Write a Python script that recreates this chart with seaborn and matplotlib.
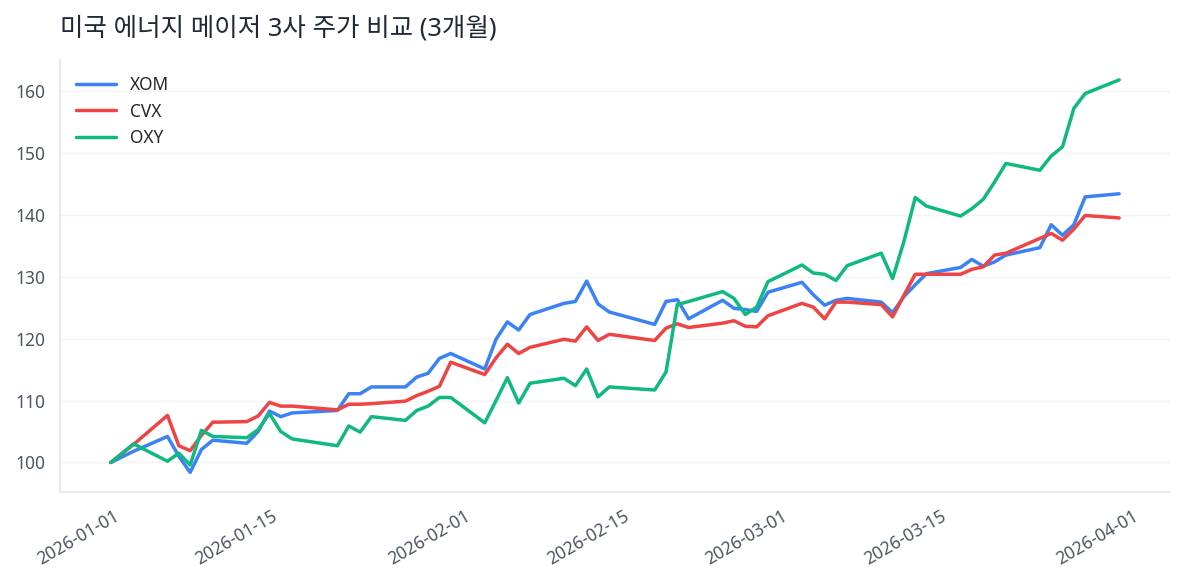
import pandas as pd
import seaborn as sns
import matplotlib.pyplot as plt
import matplotlib.dates as mdates

# US trading days, 2025-12-31 .. 2026-03-30
holidays = ['2026-01-01', '2026-01-19', '2026-02-16']
dates = pd.bdate_range('2025-12-31', '2026-03-30', freq='C', holidays=holidays)

xom = [100.0, 101.8, 104.2, 101.0, 98.4, 102.1, 103.6, 103.1, 105.0, 108.3,
       107.4, 108.0, 108.4, 111.1, 111.1, 112.2, 112.2, 113.8, 114.4, 116.8,
       117.6, 115.1, 119.9, 122.7, 121.4, 123.9, 125.7, 126.0, 129.3, 125.6,
       124.3, 122.3, 126.0, 126.3, 123.2, 126.2, 124.9, 124.7, 124.4, 127.5,
       129.1, 127.1, 125.4, 126.2, 126.5, 125.9, 124.2, 126.8, 128.7, 130.5,
       131.5, 132.8, 131.7, 132.4, 133.5, 134.7, 138.4, 136.7, 138.4, 142.9,
       143.4]
cvx = [100.0, 102.9, 107.6, 102.7, 101.9, 104.4, 106.5, 106.6, 107.5, 109.7,
       109.1, 109.1, 108.5, 109.4, 109.4, 109.5, 109.9, 110.8, 111.5, 112.3,
       116.2, 114.2, 116.9, 119.1, 117.6, 118.6, 119.9, 119.6, 121.9, 119.7,
       120.7, 119.7, 121.7, 122.4, 121.8, 122.5, 122.9, 122.0, 121.9, 123.7,
       125.7, 125.1, 123.2, 125.9, 125.9, 125.5, 123.5, 127.0, 130.4, 130.4,
       130.4, 131.2, 131.6, 133.5, 133.8, 136.2, 137.0, 135.9, 137.7, 139.9,
       139.5]
oxy = [100.0, 103.0, 100.2, 101.5, 99.6, 105.2, 104.2, 104.0, 105.3, 107.9,
       105.0, 103.8, 102.7, 105.9, 104.9, 107.4, 106.8, 108.4, 109.1, 110.5,
       110.5, 106.4, 110.0, 113.7, 109.6, 112.8, 113.6, 112.4, 115.1, 110.6,
       112.2, 111.7, 114.6, 125.5, 126.0, 127.6, 126.5, 123.9, 125.1, 129.2,
       131.9, 130.6, 130.4, 129.4, 131.8, 133.8, 129.7, 135.7, 142.8, 141.4,
       139.8, 141.0, 142.5, 145.3, 148.3, 147.2, 149.5, 151.0, 157.2, 159.6,
       161.8]

tickers = ['XOM', 'CVX', 'OXY']
colors = ['#3b82f6', '#ef4444', '#10b981']

df = pd.DataFrame({'date': dates, 'XOM': xom, 'CVX': cvx, 'OXY': oxy})
df = df.melt(id_vars='date', var_name='ticker', value_name='price')

sns.set_style('white')
plt.rcParams['font.family'] = ['Noto Sans', 'Noto Sans CJK KR', 'DejaVu Sans']

fig, ax = plt.subplots(figsize=(9.48, 4.68), dpi=125)
fig.subplots_adjust(left=0.051, right=0.987, bottom=0.159, top=0.897)

sns.lineplot(data=df, x='date', y='price', hue='ticker', hue_order=tickers,
             palette=colors, linewidth=2.0, ax=ax)

ax.set_title('미국 에너지 메이저 3사 주가 비교 (3개월)', loc='left',
             fontsize=14.7, color='#1f2937', pad=14)
ax.set(xlabel='', ylabel='')
ax.grid(axis='y', color='#f3f4f6', linewidth=0.8)
ax.set_axisbelow(True)

for side in ['top', 'right']:
    ax.spines[side].set_visible(False)
for side in ['left', 'bottom']:
    ax.spines[side].set_color('#e5e7eb')
    ax.spines[side].set_linewidth(1.0)

ax.xaxis.set_major_locator(mdates.DayLocator(bymonthday=[1, 15]))
ax.xaxis.set_major_formatter(mdates.DateFormatter('%Y-%m-%d'))
ax.tick_params(colors='#4b5563', labelsize=10, length=3.5, width=1, pad=5)
plt.setp(ax.get_xticklabels(), rotation=30, ha='right')

ax.legend(loc='upper left', frameon=False, fontsize=10, handlelength=2.3)

fig.savefig('out.png', dpi=125)
